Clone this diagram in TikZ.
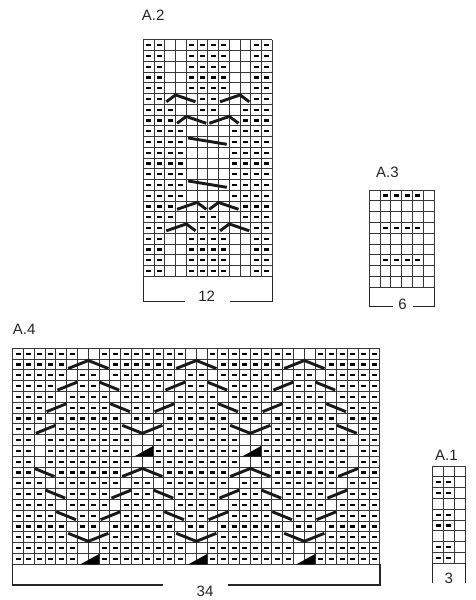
\documentclass[tikz,border=0pt]{standalone}
\usepackage{fontspec}
\setmainfont{Liberation Sans}
\tikzset{
  gridln/.style={draw=black!78, line width=0.85pt},
  cabl/.style={line width=2.9pt, draw=black!90, line join=miter, line cap=butt},
  brk/.style={line width=1.2pt, draw=black!85},
  lbl/.style={font=\fontsize{15}{18}\selectfont, text=black!85, inner sep=0pt},
}
\def\chx{0}\def\chy{0}\def\chs{10.8}
\newcommand{\DashAt}[2]{\fill[black] ({\chx+(#1-0.5)*\chs-2.5},{\chy+(#2-0.5)*\chs-1.1}) rectangle ({\chx+(#1-0.5)*\chs+2.5},{\chy+(#2-0.5)*\chs+1.1});}
\newcommand{\AllDashes}[2]{\foreach \cc in {1,...,#1}{\foreach \rr in {1,...,#2}{\DashAt{\cc}{\rr}}}}
\newcommand{\DashRow}[2]{\foreach \cc in {#2}{\DashAt{\cc}{#1}}}
\newcommand{\Clear}[2]{\foreach \cc in {#2}{\fill[white] ({\chx+(\cc-1)*\chs},{\chy+(#1-1)*\chs}) rectangle ({\chx+\cc*\chs},{\chy+#1*\chs});}}
\newcommand{\CGrid}[2]{%
  \foreach \ii in {0,...,#1}{\draw[gridln] ({\chx+\ii*\chs},{\chy}) -- ({\chx+\ii*\chs},{\chy+#2*\chs});}%
  \foreach \jj in {0,...,#2}{\draw[gridln] ({\chx},{\chy+\jj*\chs}) -- ({\chx+#1*\chs},{\chy+\jj*\chs});}}
\newcommand{\Up}[2]{\draw[cabl] ({\chx+(#1-1)*\chs+1.5},{\chy+#2*\chs-1.4}) -- ({\chx+(#1+1)*\chs-0.3},{\chy+(#2-1)*\chs+1.4});}
\newcommand{\Dn}[2]{\draw[cabl] ({\chx+(#1-1)*\chs+0.3},{\chy+(#2-1)*\chs+1.4}) -- ({\chx+(#1+1)*\chs-1.5},{\chy+#2*\chs-1.4});}
\newcommand{\Pk}[2]{\draw[cabl] ({\chx+(#1-1)*\chs+1.5},{\chy+#2*\chs-1.4}) -- ({\chx+(#1+1)*\chs},{\chy+(#2-1)*\chs+1.4}) -- ({\chx+(#1+3)*\chs-1.5},{\chy+#2*\chs-1.4});}
\newcommand{\Vl}[2]{\draw[cabl] ({\chx+(#1-1)*\chs+1.5},{\chy+(#2-1)*\chs+1.4}) -- ({\chx+(#1+1)*\chs},{\chy+#2*\chs-1.4}) -- ({\chx+(#1+3)*\chs-1.5},{\chy+(#2-1)*\chs+1.4});}
\newcommand{\Tri}[2]{\fill[black] ({\chx+(#1-1)*\chs+3},{\chy+#2*\chs}) -- ({\chx+(#1+1)*\chs},{\chy+#2*\chs}) -- ({\chx+(#1+1)*\chs},{\chy+(#2-1)*\chs+0.5}) -- cycle;}
\newcommand{\Chev}[3]{\draw[cabl] ({\chx+(#1-1)*\chs+1.5},{\chy+#2*\chs-2.5}) -- ({\chx+(#1-1+#3)*\chs},{\chy+(#2-1)*\chs+1.4}) -- ({\chx+(#1+2)*\chs-1.5},{\chy+#2*\chs-2.5});}
\newcommand{\LongLn}[2]{\draw[cabl] ({\chx+(#1-1)*\chs+1.7},{\chy+(#2-1)*\chs+1.4}) -- ({\chx+(#1+3)*\chs-2.5},{\chy+#2*\chs-3});}
\begin{document}
\begin{tikzpicture}[x=1pt,y=-1pt]
\fill[white] (0,0) rectangle (476,600);
\useasboundingbox (0,0) rectangle (476,600);

% ---------------- A.2 ----------------
\def\chx{143.3}\def\chy{39.8}\def\chs{10.75}
\AllDashes{12}{22}
\foreach \rr in {1,2,3,4,5,19,20,21,22}{\Clear{\rr}{3,4,9,10}}
\Clear{6}{3,4,5,8,9,10}
\Clear{7}{4,5,8,9}
\Clear{8}{4,5,6,7,8,9}
\foreach \rr in {9,...,15}{\Clear{\rr}{5,6,7,8}}
\Clear{16}{4,5,6,7,8,9}
\Clear{17}{4,5,8,9}
\Clear{18}{3,4,5,8,9,10}
\CGrid{12}{22}
\Chev{3}{6}{1}\Chev{8}{6}{2}
\Chev{4}{8}{1}\Chev{7}{8}{2}
\LongLn{5}{10}\LongLn{5}{14}
\Chev{4}{16}{2}\Chev{7}{16}{1}
\Chev{3}{18}{2}\Chev{8}{18}{1}
\draw[brk] (143.3,276.3) -- (143.3,301.7) -- (185,301.7);
\draw[brk] (230,301.7) -- (272.3,301.7) -- (272.3,276.3);
\node[lbl, anchor=base west] (labA2) at (141.7,20.7) {A.2};
\node[lbl, anchor=base] (num12) at (206.7,301) {12};

% ---------------- A.3 ----------------
\def\chx{369.3}\def\chy{190}\def\chs{10.8}
\DashRow{1}{2,3,4,5}\DashRow{4}{2,3,4,5}\DashRow{7}{2,3,4,5}
\CGrid{6}{9}
\draw[brk] (369.3,287.2) -- (369.3,306.7) -- (393.3,306.7);
\draw[brk] (413.3,306.7) -- (434.1,306.7) -- (434.1,287.2);
\node[lbl, anchor=base west] (labA3) at (376,177.3) {A.3};
\node[lbl, anchor=base] (num6) at (402.5,309) {6};

% ---------------- A.4 ----------------
\def\chx{12.7}\def\chy{348.3}\def\chs{10.8}
\AllDashes{34}{20}
\Clear{1}{7,8,17,18,27,28}
\Clear{2}{6,7,8,9,16,17,18,19,26,27,28,29}
\Clear{3}{6,9,16,19,26,29}
\Clear{4}{5,6,9,10,15,16,19,20,25,26,29,30}
\Clear{5}{5,10,15,20,25,30}
\Clear{6}{4,5,10,11,14,15,20,21,24,25,30,31}
\Clear{7}{4,11,14,21,24,31}
\Clear{8}{3,4,11,12,13,14,21,22,23,24,31,32}
\Clear{9}{3,12,13,22,23,32}
\Clear{10}{3,12,13,22,23,32}
\Clear{11}{3,12,13,22,23,32}
\Clear{12}{3,4,11,12,13,14,21,22,23,24,31,32}
\Clear{13}{4,11,14,21,24,31}
\Clear{14}{4,5,10,11,14,15,20,21,24,25,30,31}
\Clear{15}{5,10,15,20,25,30}
\Clear{16}{5,6,9,10,15,16,19,20,25,26,29,30}
\Clear{17}{6,9,16,19,26,29}
\Clear{18}{6,7,8,9,16,17,18,19,26,27,28,29}
\Clear{19}{7,8,17,18,27,28}
\Clear{20}{7,8,17,18,27,28}
\CGrid{34}{20}
\Pk{6}{2}\Pk{16}{2}\Pk{26}{2}
\Up{5}{4}\Dn{9}{4}\Up{15}{4}\Dn{19}{4}\Up{25}{4}\Dn{29}{4}
\Up{4}{6}\Dn{10}{6}\Up{14}{6}\Dn{20}{6}\Up{24}{6}\Dn{30}{6}
\Up{3}{8}\Vl{11}{8}\Vl{21}{8}\Dn{31}{8}
\Tri{12}{10}\Tri{22}{10}
\Dn{3}{12}\Pk{11}{12}\Pk{21}{12}\Up{31}{12}
\Dn{4}{14}\Up{10}{14}\Dn{14}{14}\Up{20}{14}\Dn{24}{14}\Up{30}{14}
\Dn{5}{16}\Up{9}{16}\Dn{15}{16}\Up{19}{16}\Dn{25}{16}\Up{29}{16}
\Vl{6}{18}\Vl{16}{18}\Vl{26}{18}
\Tri{7}{20}\Tri{17}{20}\Tri{27}{20}
\draw[brk] (12.7,564.3) -- (12.7,585) -- (163.3,585);
\draw[brk] (228.3,585) -- (379.9,585) -- (379.9,564.3);
\node[lbl, anchor=base west] (labA4) at (12.7,334) {A.4};
\node[lbl, anchor=base] (num34) at (205,596) {34};

% ---------------- A.1 ----------------
\def\chx{432.7}\def\chy{466}\def\chs{10.8}
\foreach \rr in {2,3,5,6,8,9}{\DashRow{\rr}{1,2}}
\CGrid{3}{9}
\draw[brk] (432.7,563.2) -- (432.7,583);
\draw[brk] (465.1,563.2) -- (465.1,583);
\node[lbl, anchor=base west] (labA1) at (435,460) {A.1};
\node[lbl, anchor=base] (num3) at (448.8,583.3) {3};
\end{tikzpicture}
\end{document}
